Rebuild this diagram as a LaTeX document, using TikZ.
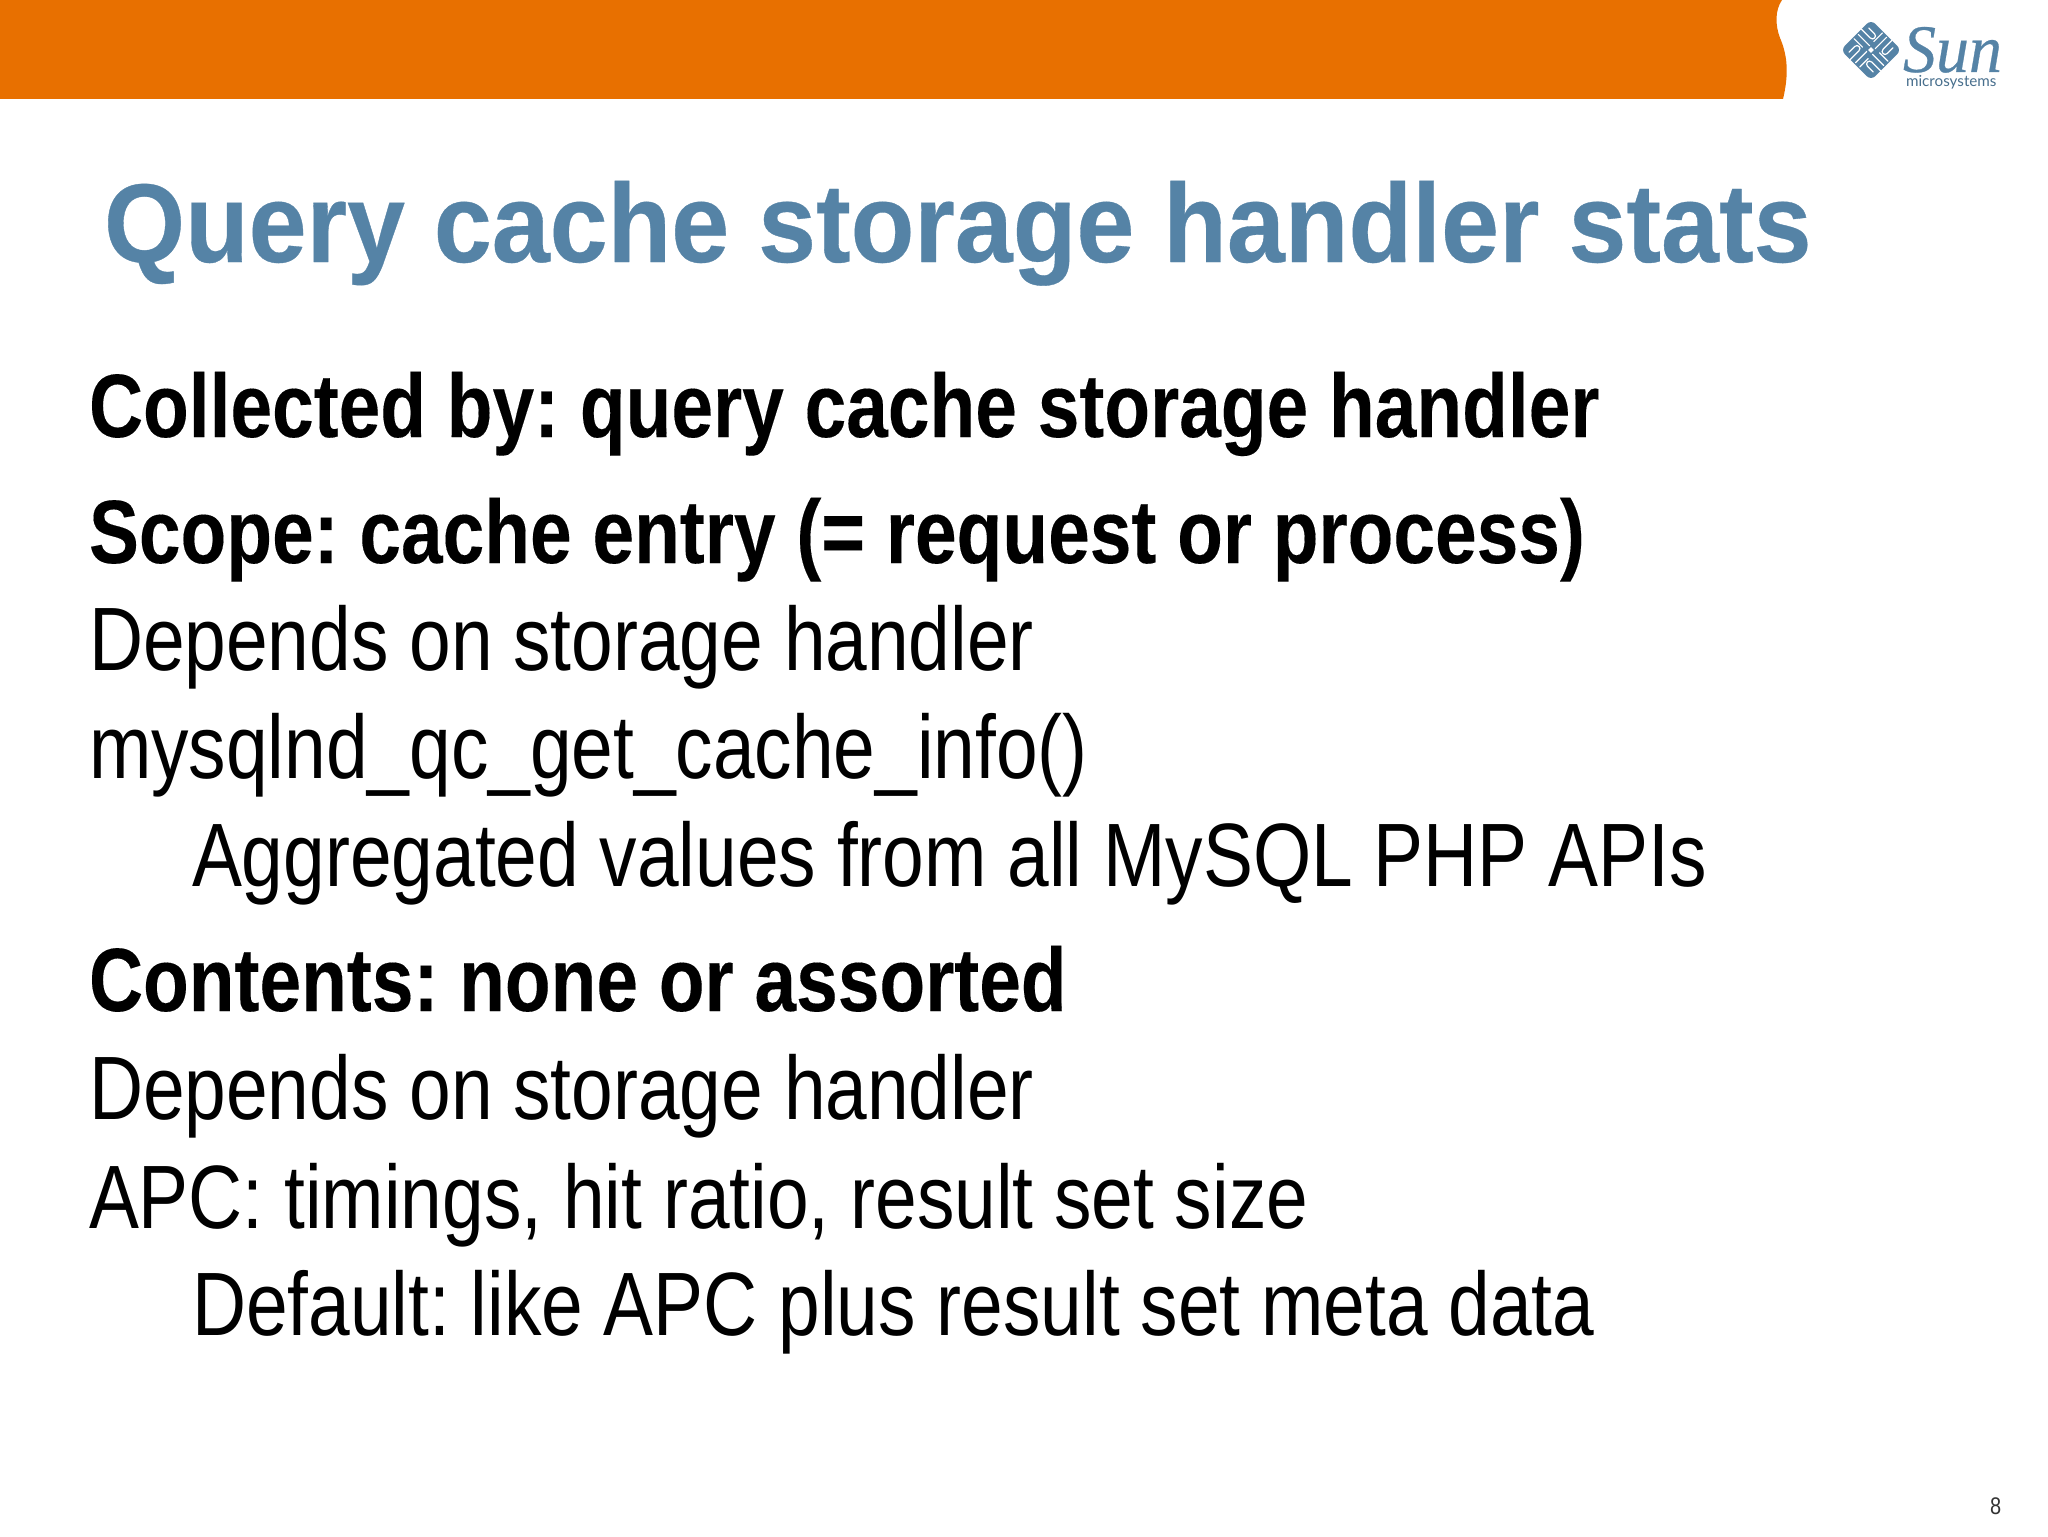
\documentclass[tikz,border=0pt]{standalone}
\usepackage{fontspec}
\setmainfont{Liberation Sans}
\newfontfamily\bodyreg[FakeStretch=0.832]{Liberation Sans}
\newfontfamily\bodybold[FakeStretch=0.832,FakeBold=0.15]{Liberation Sans Bold}
\newfontfamily\titlebold[FakeStretch=0.93,FakeBold=0.3]{Liberation Sans Bold}
\newfontfamily\sunfont[FakeStretch=0.97,FakeBold=0.4]{Liberation Serif Italic}
\newfontfamily\microfont{Lato}
\definecolor{sunorange}{HTML}{E87000}
\definecolor{sunblue}{HTML}{5583A6}
\tikzset{x=0.5pt,y=-0.5pt,
  line/.style={anchor=base west,inner sep=0pt,outer sep=0pt},
  plainline/.style={line,font=\bodyreg\fontsize{45}{54}\selectfont\frenchspacing,text=black},
  boldline/.style={line,font=\bodybold\fontsize{45}{54}\selectfont\frenchspacing,text=black},
}
\begin{document}
\begin{tikzpicture}
\useasboundingbox (0,0) rectangle (2048,1536);
\fill[white] (0,0) rectangle (2048,1536);
\fill[sunorange] (0,0) -- (1782,0) .. controls (1775,10) and (1775,25) .. (1780,38)
  .. controls (1786,52) and (1790,70) .. (1783,99) -- (0,99) -- cycle;
% logo
\begin{scope}[shift={(1871,50)},rotate=45]
  \fill[sunblue,rounded corners=3pt] (-21.5,-21.5) rectangle (21.5,21.5);
  \foreach \a in {0,90,180,270}{
    \begin{scope}[rotate=\a]
      \draw[white,line width=0.6pt,line cap=round] (2,-20) -- (2,-4) (8,-21.5) -- (8,-9) .. controls (8,-5) and (14,-5) .. (14,-9) -- (14,-17);
      \draw[white,line width=0.6pt,line cap=round] (20,-4) -- (8,-4);
    \end{scope}
  }
  \fill[white] (-2,-2) rectangle (2,2);
\end{scope}
\node[line,text depth=0pt,font=\sunfont\fontsize{34}{40}\selectfont,text=sunblue] (sun) at (1903,72) {Sun};
\node[line,font=\microfont\fontsize{7.6}{9}\selectfont,text=sunblue!85!black] (micro) at (1906,87) {microsystems};
% title
\node[line,font=\titlebold\fontsize{56}{66}\selectfont\frenchspacing,text=sunblue] (title) at (104,262) {Query cache storage handler stats};
% body
\node[boldline]  (l1) at (89,437)  {Collected by: query cache storage handler};
\node[boldline]  (l2) at (89,563)  {Scope: cache entry (= request or process)};
\node[plainline] (l3) at (89,670)  {Depends on storage handler};
\node[plainline] (l4) at (89,778)  {mysqlnd\_qc\_get\_cache\_info()};
\node[plainline] (l5) at (192,886) {Aggregated values from all MySQL PHP APIs};
\node[boldline]  (l6) at (89,1011) {Contents: none or assorted};
\node[plainline] (l7) at (89,1119) {Depends on storage handler};
\node[plainline] (l8) at (89,1228) {APC: timings, hit ratio, result set size};
\node[plainline] (l9) at (192,1335){Default: like APC plus result set meta data};
\node[line,font=\bodyreg\fontsize{12}{14}\selectfont,text=black!80] (page) at (1990,1514) {8};
\end{tikzpicture}
\end{document}
